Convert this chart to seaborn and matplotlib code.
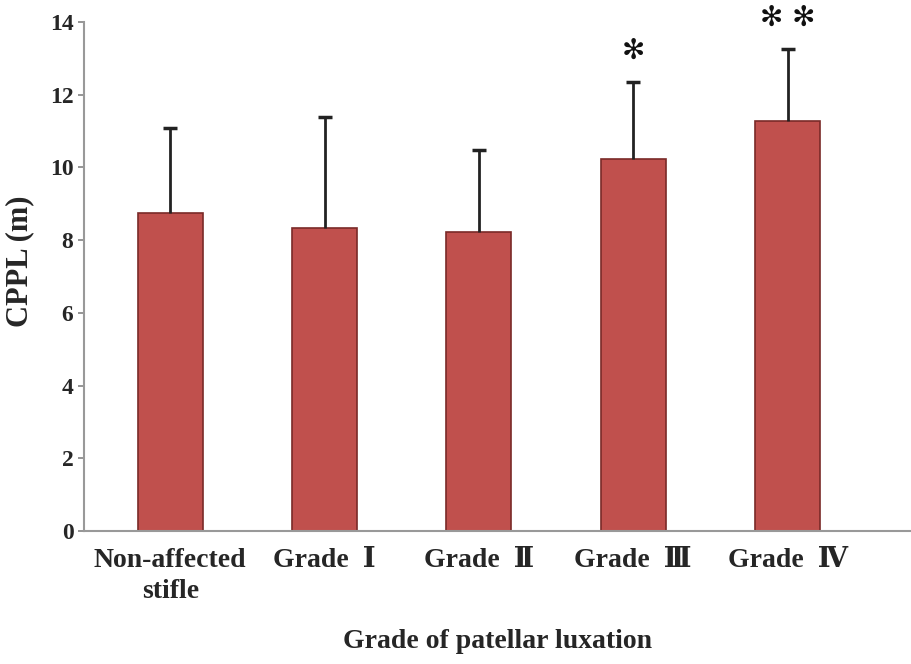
import numpy as np
import pandas as pd
import matplotlib
matplotlib.use('Agg')
import matplotlib.pyplot as plt
import seaborn as sns

groups = ['Non-affected\nstifle', 'Grade  Ⅰ', 'Grade  Ⅱ', 'Grade  Ⅲ', 'Grade  Ⅳ']
means = [8.75, 8.33, 8.22, 10.23, 11.28]
sds = [2.33, 3.06, 2.26, 2.12, 1.98]
marks = ['', '', '', '✻', '✻ ✻']

sns.set_theme(style='white')
plt.rcParams['font.family'] = ['Liberation Serif', 'DejaVu Serif']
plt.rcParams['font.weight'] = 'bold'

df = pd.DataFrame({'group': groups, 'mean': means, 'sd': sds})

fig = plt.figure(figsize=(9.11, 6.64), dpi=100)
ax = fig.add_axes([0.092, 0.200, 0.908, 0.767])

sns.barplot(data=df, x='group', y='mean', color='#C0504D', saturation=1,
            width=0.42, edgecolor='#7A2A28', linewidth=1.2, ax=ax)
xpos = np.arange(len(groups))
eb = ax.errorbar(xpos, means, yerr=[np.zeros(len(sds)), sds], fmt='none',
                 ecolor='#222222', elinewidth=2, capsize=5, capthick=2.5)
# only upper cap
eb[1][0].set_visible(False)
for x, m, s, t in zip(xpos, means, sds, marks):
    if t:
        ax.text(x, m + s + 0.85, t, ha='center', va='center', fontsize=20,
                fontweight='normal', family='DejaVu Sans', color='#111111')

ax.set_xlim(-0.56, 4.8)
ax.set_ylim(0, 14)
ax.set_yticks(range(0, 15, 2))
ax.tick_params(axis='y', labelsize=17, length=4, color='#888888', left=True)
ax.tick_params(axis='x', labelsize=20, length=0, pad=12)
for lbl in ax.get_xticklabels():
    lbl.set_linespacing(1.3)
for sp in ['top', 'right']:
    ax.spines[sp].set_visible(False)
for sp in ['left', 'bottom']:
    ax.spines[sp].set_color('#999999')
    ax.spines[sp].set_linewidth(1.5)
ax.set_ylabel('CPPL (m)', fontsize=22, fontweight='bold')
ax.yaxis.set_label_coords(-0.06, 0.53)
ax.set_xlabel('Grade of patellar luxation', fontsize=20, fontweight='bold', labelpad=18)

plt.savefig('out.png', dpi=100, facecolor='white')
